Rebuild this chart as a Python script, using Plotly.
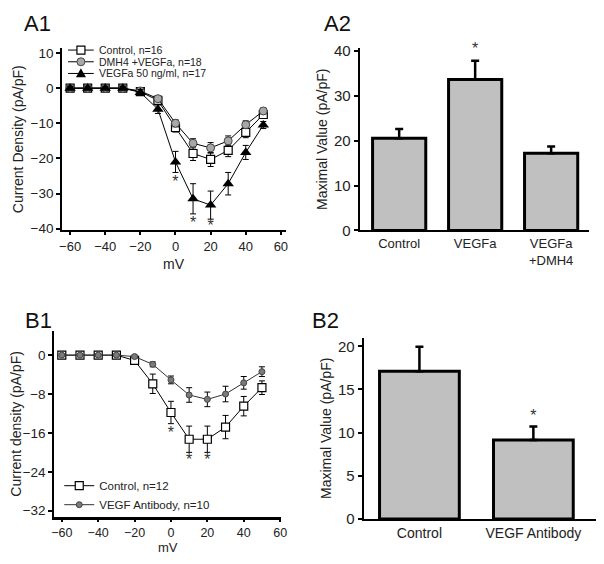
import plotly.graph_objects as go

# ---- data ----
mv = [-60, -50, -40, -30, -20, -10, 0, 10, 20, 30, 40, 50]

# A1: current density vs voltage
a1_control = [0, 0, 0, 0, -1.0, -3.5, -11.2, -18.6, -20.3, -17.7, -12.6, -7.5]
a1_control_err = [0.3, 0.3, 0.3, 0.3, 0.5, 0.8, 1.3, 2.0, 2.0, 1.8, 1.5, 1.0]
a1_dmh4 = [0, 0, 0, 0, -0.8, -3.0, -10.0, -15.7, -17.0, -15.0, -10.4, -6.5]
a1_dmh4_err = [0.3, 0.3, 0.3, 0.3, 0.4, 0.7, 1.0, 1.3, 1.5, 1.4, 1.1, 0.8]
a1_vegfa = [0, 0, 0, 0, -1.2, -6.0, -21.0, -31.5, -33.3, -27.2, -18.3, -10.5]
a1_vegfa_err = [0.5, 0.5, 0.5, 0.5, 0.8, 1.2, 3.0, 4.3, 4.0, 3.2, 2.0, 1.0]
a1_names = ["Control, n=16", "DMH4 +VEGFa, n=18", "VEGFa 50 ng/ml, n=17"]
# significance stars (text anchor, glyph sits a little above it)
a1_star_x = [0, 10, 20]
a1_star_y = [-26.9, -38.6, -39.4]

# A2: maximal value
a2_groups = ["Control", "VEGFa", "VEGFa<br>+DMH4"]
a2_values = [20.5, 33.6, 17.2]
a2_err = [2.1, 4.2, 1.5]
a2_star_x = ["VEGFa"]
a2_star_y = [40.2]

# B1: current density vs voltage
b1_control = [0, 0, 0, 0, -1.1, -5.9, -11.8, -17.3, -17.3, -14.8, -10.5, -6.7]
b1_control_err = [0.3, 0.3, 0.3, 0.3, 0.5, 2.0, 2.3, 2.7, 2.7, 2.4, 2.0, 1.4]
b1_antibody = [0, 0, 0, 0, -0.3, -1.9, -5.1, -8.2, -9.1, -8.0, -5.7, -3.4]
b1_antibody_err = [0.2, 0.2, 0.2, 0.2, 0.3, 0.5, 0.8, 1.5, 1.5, 1.6, 1.3, 1.0]
b1_star_x = [0, 10, 20]
b1_star_y = [-16.2, -21.7, -21.7]

# B2: maximal value
b2_groups = ["Control", "VEGF Antibody"]
b2_values = [17.1, 9.15]
b2_err = [2.85, 1.55]
b2_star_x = ["VEGF Antibody"]
b2_star_y = [11.8]

# page body has an 8px margin, so the figure is drawn 8px in from the corner
OFF = 8
W, H = 604 - OFF, 564 - OFF
FONT = "Liberation Sans"
BAR_GRAY = "#c0c0c0"


def px_x(a, b):
    return [(a - OFF) / W, (b - OFF) / W]


def px_y(top, bottom):
    return [1 - (bottom - OFF) / H, 1 - (top - OFF) / H]


def pxx(a):
    return (a - OFF) / W


def pxy(a):
    return 1 - (a - OFF) / H


def err(vals, w=1):
    return dict(type="data", array=vals, visible=True, color="black",
                thickness=w, width=3)


def stars(x, y, xa, ya):
    return go.Scatter(x=x, y=y, mode="text", text=["*"] * len(x),
                      textfont=dict(size=16, color="#333"), showlegend=False,
                      cliponaxis=False, xaxis=xa, yaxis=ya, hoverinfo="skip")


a1_styles = [
    dict(symbol="square", size=8, color="white", line=dict(color="black", width=1.2)),
    dict(symbol="circle", size=8, color="#a8a8a8", line=dict(color="#444", width=1)),
    dict(symbol="triangle-up", size=10, color="black"),
]

fig = go.Figure()

# A1 traces
for ys, es, st, nm in zip([a1_control, a1_dmh4, a1_vegfa],
                          [a1_control_err, a1_dmh4_err, a1_vegfa_err], a1_styles, a1_names):
    fig.add_trace(go.Scatter(x=mv, y=ys, name=nm, mode="lines+markers",
                             line=dict(color="black", width=1), marker=st,
                             error_y=err(es), xaxis="x", yaxis="y", showlegend=False))
fig.add_trace(stars(a1_star_x, a1_star_y, "x", "y"))

# A2 bars
fig.add_trace(go.Bar(x=a2_groups, y=a2_values, width=0.7,
                     marker=dict(color=BAR_GRAY, line=dict(color="black", width=3)),
                     error_y=dict(type="data", array=a2_err, arrayminus=[0] * 3,
                                  symmetric=False, color="black", thickness=2.5, width=4),
                     showlegend=False, xaxis="x2", yaxis="y2"))
fig.add_trace(stars(a2_star_x, a2_star_y, "x2", "y2"))

# B1 traces
fig.add_trace(go.Scatter(x=mv, y=b1_control, name="Control, n=12", mode="lines+markers",
                         line=dict(color="black", width=1),
                         marker=dict(symbol="square", size=8, color="white",
                                     line=dict(color="black", width=1.2)),
                         error_y=err(b1_control_err), xaxis="x3", yaxis="y3", legend="legend2"))
fig.add_trace(go.Scatter(x=mv, y=b1_antibody, name="VEGF Antibody, n=10", mode="lines+markers",
                         line=dict(color="#333", width=1),
                         marker=dict(symbol="circle", size=6, color="#7a7a7a",
                                     line=dict(color="#444", width=1)),
                         error_y=err(b1_antibody_err), xaxis="x3", yaxis="y3", legend="legend2"))
fig.add_trace(stars(b1_star_x, b1_star_y, "x3", "y3"))

# B2 bars
fig.add_trace(go.Bar(x=b2_groups, y=b2_values, width=0.7,
                     marker=dict(color=BAR_GRAY, line=dict(color="black", width=3)),
                     error_y=dict(type="data", array=b2_err, arrayminus=[0] * 2,
                                  symmetric=False, color="black", thickness=2.5, width=4),
                     showlegend=False, xaxis="x4", yaxis="y4"))
fig.add_trace(stars(b2_star_x, b2_star_y, "x4", "y4"))

ax = dict(showgrid=False, zeroline=False, showline=True, linecolor="black", linewidth=2,
          ticks="outside", ticklen=4, tickwidth=2, tickcolor="black",
          tickfont=dict(size=13.5, color="#222"))
bar_tick = dict(size=15, color="#222")
mv_tick = dict(size=13, color="#222")

fig.update_layout(
    width=W, height=H,
    margin=dict(l=0, r=0, t=0, b=0),
    plot_bgcolor="white", paper_bgcolor="white",
    font=dict(family=FONT, color="#222"),
    xaxis=dict(ax, domain=px_x(60, 287), range=[-64.5, 62.8], tickvals=[-60, -40, -20, 0, 20, 40, 60],
               anchor="y", ticklen=3, tickfont=mv_tick),
    yaxis=dict(ax, domain=px_y(43, 230), range=[-40.5, 11.4], tickvals=[-40, -30, -20, -10, 0, 10],
               anchor="x", title=dict(text="Current Density (pA/pF)", font=dict(size=14), standoff=4)),
    xaxis2=dict(ax, domain=px_x(362, 595), range=[-0.52, 2.5], ticks="", anchor="y2",
                tickfont=dict(size=13, color="#222")),
    yaxis2=dict(ax, domain=px_y(43, 230), range=[0, 40.6], tickvals=[0, 10, 20, 30, 40],
                anchor="x2", tickfont=bar_tick,
                title=dict(text="Maximal Value (pA/pF)", font=dict(size=14), standoff=3)),
    xaxis3=dict(ax, domain=px_x(52, 282), range=[-64.1, 60.4], tickvals=[-60, -40, -20, 0, 20, 40, 60],
                anchor="y3", linewidth=3, ticklen=2, tickfont=dict(size=12.5, color="#222")),
    yaxis3=dict(ax, domain=px_y(333, 524), range=[-33.3, 5], tickvals=[-32, -24, -16, -8, 0],
                anchor="x3", title=dict(text="Current density (pA/pF)", font=dict(size=14), standoff=3)),
    xaxis4=dict(ax, domain=px_x(366, 602), range=[-0.49, 1.55], ticks="", anchor="y4",
                tickfont=dict(size=14, color="#222")),
    yaxis4=dict(ax, domain=px_y(340, 526), range=[0, 21], tickvals=[0, 5, 10, 15, 20],
                anchor="x4", tickfont=bar_tick,
                title=dict(text="Maximal Value (pA/pF)", font=dict(size=14), standoff=3)),
    legend2=dict(x=pxx(57), y=pxy(477), xanchor="left", yanchor="top", bgcolor="rgba(0,0,0,0)",
                 font=dict(size=11.5, color="#222"), tracegroupgap=0, itemwidth=30),
)

# compact legend for A1 (plotly's own legend rows are too tall for this panel)
leg_rows = [45, 57, 69]
for nm, st, yy in zip(a1_names, a1_styles, leg_rows):
    fig.add_shape(type="line", xref="paper", yref="paper", x0=pxx(66), x1=pxx(92),
                  y0=pxy(yy), y1=pxy(yy), line=dict(color="black", width=1))
    sz = st["size"] / 2
    lw = st.get("line", {}).get("width", 0)
    lc = st.get("line", {}).get("color", st["color"])
    if st["symbol"] == "circle":
        fig.add_shape(type="circle", xref="paper", yref="paper", xsizemode="pixel",
                      ysizemode="pixel", xanchor=pxx(79), yanchor=pxy(yy),
                      x0=-sz, x1=sz, y0=-sz, y1=sz, fillcolor=st["color"],
                      line=dict(color=lc, width=lw))
    else:
        if st["symbol"] == "square":
            path = f"M {-sz},{-sz} L {sz},{-sz} L {sz},{sz} L {-sz},{sz} Z"
        else:
            path = f"M {-sz},{-sz * 0.75} L {sz},{-sz * 0.75} L 0,{sz * 1.05} Z"
        fig.add_shape(type="path", xref="paper", yref="paper", xsizemode="pixel",
                      ysizemode="pixel", xanchor=pxx(79), yanchor=pxy(yy), path=path,
                      fillcolor=st["color"], line=dict(color=lc, width=lw))
    fig.add_annotation(text=nm, x=pxx(95), y=pxy(yy), xref="paper", yref="paper",
                       xanchor="left", yanchor="middle", showarrow=False,
                       font=dict(size=10.5, color="#222"))

# x-axis titles sit tight under the tick labels
for cx, cy, fs in [((60 + 287) / 2, 264, 14), ((52 + 282) / 2, 555, 13)]:
    fig.add_annotation(text="mV", x=pxx(cx), y=pxy(cy), xref="paper", yref="paper",
                       xanchor="center", yanchor="middle", showarrow=False,
                       font=dict(size=fs, color="#222"))

labels = [("A1", 19, 18), ("A2", 324, 18), ("B1", 20, 322), ("B2", 312, 322)]
for txt, x, y in labels:
    fig.add_annotation(text=txt, x=pxx(x), y=pxy(y), xref="paper", yref="paper",
                       xanchor="left", yanchor="middle", showarrow=False,
                       font=dict(size=22, color="#111"))

fig.write_html("out.html")
